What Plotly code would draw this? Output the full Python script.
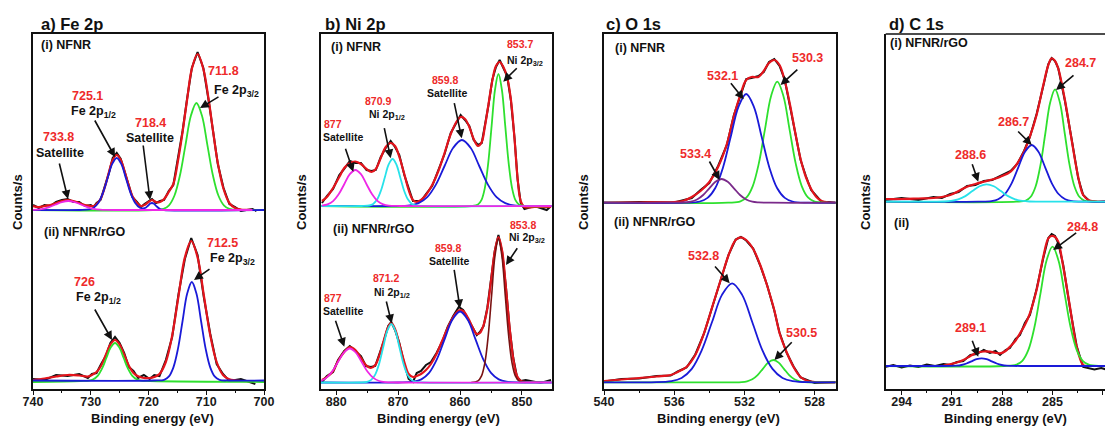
import plotly.graph_objects as go

FONT = "Liberation Sans, Arial, sans-serif"
W, H = 1105, 426

# ============================ DATA ============================
# y values are relative intensities (arbitrary units, spectra stacked with an offset)

# ---------- a) Fe 2p, (i) NFNR ----------
fe1_x = [740, 739, 738, 737, 736, 735, 734, 733, 732, 731, 730, 729.5, 729, 728.3, 727.5, 726.8, 726.2, 725.5,
         724.8, 724.2, 723.5, 722.8, 722, 721.3, 720.7, 720, 719.4, 718.7, 718, 717.3, 716.5, 715.7, 714.9, 714.1,
         713.3, 712.5, 711.5, 710.5, 709.6, 708.8, 708, 707, 706, 705, 704, 702, 701.3]
fe1_fit = [183, 182, 183, 184, 186, 188, 189, 188, 186, 184, 183, 183, 185, 190, 203, 218, 229, 234,
           229, 219, 205, 193, 186, 183, 184, 187, 189, 187, 187, 190, 197, 205, 228, 257,
           290, 320, 335, 320, 290, 257, 226, 200, 186, 181, 179.5, 179, 179]
fe1_raw = [184, 181, 184, 183, 187, 189, 190, 187, 187, 183, 184, 182, 186, 189, 204, 217, 231, 236,
           230, 218, 206, 192, 187, 182, 185, 188, 190, 186, 188, 189, 198, 204, 229, 258,
           291, 321, 337, 321, 289, 258, 225, 201, 185, 182, 178, 180, 178]
fe1_sat_x = [740.5, 739.4, 738.3, 737.2, 736.1, 735.0, 733.9, 732.8, 731.7, 730.6, 729.5, 728.4, 727.3, 725.1, 702]
fe1_sat = [179.1, 179.4, 180.2, 181.9, 184.5, 186.9, 188, 186.9, 184.5, 181.9, 180.2, 179.4, 179.1, 179, 179]
fe1_blue_x = [740, 731.9, 730.3, 729.5, 728.7, 727.9, 727.1, 726.3, 725.5, 724.7, 723.9, 723.1, 722.3, 721.5,
              720.7, 720.1, 719.75, 719.4, 719.05, 718.7, 718.0, 717.3, 700]
fe1_blue = [179, 179, 179.6, 181.3, 186, 195.9, 210.5, 224.9, 231, 224.9, 210.5, 195.9, 186, 181.3,
            180.8, 183.2, 185.2, 186, 185.2, 183.2, 179.9, 179, 179]
fe1_green_x = [740, 719.3, 717.4, 716.45, 715.5, 714.55, 713.6, 712.65, 711.7, 710.75, 709.8, 708.85, 707.9,
               706.95, 706.0, 704.1, 700]
fe1_green = [179, 179, 180.2, 183.7, 193.5, 213.7, 243.9, 273.4, 286, 273.4, 243.9, 213.7, 193.5,
             183.7, 180.2, 179, 179]

# ---------- a) Fe 2p, (ii) NFNR/rGO ----------
fe2_x = [740, 738, 736, 734, 732, 730.5, 729.8, 729, 728.2, 727.4, 726.6, 725.8, 725, 724.2, 723.4, 722.6, 721.8,
         720.8, 719.8, 719, 718.1, 717, 715.9, 714.8, 713.7, 712.6, 711.5, 710.4, 709.3, 708.2, 707.1, 706, 704, 701.5]
fe2_fit = [9, 10.5, 12.5, 14, 13.5, 12.5, 14, 17, 23.3, 34, 44.5, 49, 44.5, 34, 23.3, 16.1, 12.7,
           11, 11, 12, 15, 27, 53.5, 93, 131.6, 148, 131.6, 93, 53.5, 27, 14, 9.6, 8, 8]
fe2_raw = [10, 9, 14, 13, 15, 11, 15, 16, 25, 33, 46, 52, 46, 36, 22, 18, 11,
           14, 10, 14, 13, 29, 52, 95, 130, 151, 134, 91, 55, 25, 15, 8, 10, 5]
fe2_green_x = [740, 731.8, 730.3, 729.55, 728.8, 728.05, 727.3, 726.55, 725.8, 725.05, 724.3, 723.55, 722.8,
               722.05, 721.3, 719.8, 700]
fe2_green = [7, 8, 8.4, 9.7, 13.1, 20.3, 31, 41.5, 46, 41.5, 31, 20.3, 13.1, 9.7, 8.4, 8, 7]
fe2_blue_x = [740, 718.9, 717.3, 716.5, 715.7, 714.9, 714.1, 713.3, 712.5, 711.7, 710.9, 710.1, 709.3, 708.5,
              707.7, 706.1, 700]
fe2_blue = [8.5, 8.5, 9.1, 12.3, 21.4, 40.1, 68, 95.4, 107, 95.4, 68, 40.1, 21.4, 12.3, 9.1, 8.5, 8.5]

# ---------- b) Ni 2p, (i) NFNR ----------
ni1_x = [882.3, 881.5, 880.5, 879.5, 878.7, 877.8, 876.9, 876.0, 875.1, 874.3, 873.6, 872.8, 872.0, 871.2, 870.5,
         869.8, 869.0, 868.3, 867.6, 867.0, 866.3, 865.5, 864.5, 863.5, 862.5, 861.5, 860.5, 859.9, 859.2, 858.5,
         857.8, 857.1, 856.5, 856.0, 855.4, 854.8, 854.2, 853.6, 853.0, 852.4, 851.8, 851.2, 850.7, 850.2, 849.6,
         848, 846, 845.3]
ni1_fit = [188, 192, 201, 212, 221, 226, 227.5, 225, 220, 217, 220, 231, 242, 246, 243,
           232, 215, 199, 189, 187, 189, 194, 204, 218, 236, 255, 268, 272, 270, 262,
           250, 243, 247, 262, 285, 308, 323, 327, 322, 312, 290, 250, 210, 188, 182,
           182, 182, 182]
ni1_raw = [186, 193, 200, 214, 220, 228, 226, 226, 219, 218, 219, 232, 241, 248, 242,
           234, 214, 200, 188, 188, 188, 195, 203, 219, 235, 256, 267, 274, 269, 263,
           249, 244, 246, 263, 284, 309, 322, 329, 321, 313, 289, 251, 209, 186, 180,
           183, 179, 183]
ni1_mag_x = [882.3, 881.4, 880.5, 879.6, 878.7, 877.8, 876.9, 876.0, 875.1, 874.2, 873.3, 872.4, 871.5, 869.7, 845]
ni1_mag = [183.4, 184.6, 187.9, 194.7, 204.8, 214.8, 219, 214.8, 204.8, 194.7, 187.9, 184.6, 183.4, 183, 183]
ni1_cyan_x = [882.5, 875.9, 874.65, 874.03, 873.4, 872.78, 872.15, 871.53, 870.9, 870.28, 869.65, 869.03, 868.4,
              867.78, 867.15, 865.9, 845]
ni1_cyan = [183, 183, 183.5, 185.1, 189.4, 198.3, 211.5, 224.5, 230, 224.5, 211.5, 198.3, 189.4, 185.1, 183.5, 183, 183]
ni1_blue_x = [882.5, 870.9, 868.1, 866.7, 865.3, 863.9, 862.5, 861.1, 859.7, 858.3, 856.9, 855.5, 854.1, 852.7,
              851.3, 848.5, 845]
ni1_blue = [183, 183, 183.7, 185.9, 191.9, 204.4, 223, 241.2, 249, 241.2, 223, 204.4, 191.9, 185.9, 183.7, 183, 183]
ni1_green_x = [882.5, 858.2, 857.1, 856.55, 856.0, 855.45, 854.9, 854.35, 853.8, 853.25, 852.7, 852.15, 851.6,
               851.05, 850.5, 849.4, 845]
ni1_green = [183, 183, 184.5, 188.8, 200.9, 225.9, 263.1, 299.5, 315, 299.5, 263.1, 225.9, 200.9, 188.8, 184.5, 183, 183]

# ---------- b) Ni 2p, (ii) NFNR/rGO ----------
ni2_x = [882.3, 881.5, 880.5, 879.7, 878.7, 877.8, 876.9, 876.0, 875.2, 874.4, 873.7, 873.0, 872.3, 871.6, 871.1,
         870.5, 869.8, 869.0, 868.3, 867.6, 867.0, 866.3, 865.5, 864.7, 863.8, 862.9, 862.0, 861.1, 860.2, 859.5,
         858.7, 858.0, 857.3, 856.8, 856.2, 855.6, 855.0, 854.4, 853.8, 853.2, 852.6, 852.0, 851.4, 850.8, 850.2,
         849.4, 847, 845.3]
ni2_fit = [9, 12, 18, 28, 37, 42, 39, 31, 24, 21, 24, 34, 49, 62, 66,
           60, 45, 27, 15, 12, 13, 15, 19, 25, 35, 48, 61, 72, 78.5, 78,
           71, 62, 55, 56, 64, 80, 108, 137, 152, 138, 102, 62, 30, 13, 8,
           7, 7, 7]
ni2_raw = [7, 13, 17, 29, 38, 43, 38, 33, 23, 22, 23, 35, 48, 63, 67,
           59, 46, 25, 10, 7, 16, 18, 24, 27, 36, 47, 62, 73, 82, 79,
           70, 63, 54, 57, 63, 81, 107, 138, 154, 137, 103, 61, 31, 12, 8,
           9, 6, 9]
ni2_mag_x = [883.5, 882.55, 881.6, 880.65, 879.7, 878.75, 877.8, 876.85, 875.9, 874.95, 874.0, 873.05, 872.1, 870.2, 845]
ni2_mag = [6.9, 8.0, 11.1, 17.5, 27.1, 36.5, 40.5, 36.5, 27.1, 17.5, 11.1, 8.0, 6.9, 6.5, 6.5]
ni2_cyan_x = [882.5, 876.3, 875.0, 874.35, 873.7, 873.05, 872.4, 871.75, 871.1, 870.45, 869.8, 869.15, 868.5,
              867.85, 867.2, 865.9, 845]
ni2_cyan = [6.5, 6.5, 7.1, 9.1, 14.4, 25.5, 42, 58.1, 65, 58.1, 42, 25.5, 14.4, 9.1, 7.1, 6.5, 6.5]
ni2_blue_x = [882.5, 870, 867.5, 866.25, 865.0, 863.75, 862.5, 861.25, 860.0, 858.75, 857.5, 856.25, 855.0, 853.75,
              852.5, 850, 845]
ni2_blue = [6.5, 6.5, 7.3, 9.6, 16.1, 29.6, 49.6, 69.2, 77.5, 69.2, 49.6, 29.6, 16.1, 9.6, 7.3, 6.5, 6.5]
ni2_brown_x = [858.2, 857.1, 856.55, 856.0, 855.45, 854.9, 854.35, 853.8, 853.25, 852.7, 852.15, 851.6, 851.05,
               850.5, 849.4]
ni2_brown = [6.5, 8.1, 12.8, 26, 53.3, 93.8, 133.6, 150.5, 133.6, 93.8, 53.3, 26, 12.8, 8.1, 6.5]

# ---------- c) O 1s, (i) NFNR ----------
o1_x = [540, 538, 536, 535.5, 535.0, 534.5, 534.0, 533.5, 533.0, 532.6, 532.2, 531.9, 531.6, 531.2, 530.9, 530.6,
        530.3, 530.0, 529.7, 529.4, 529.1, 528.8, 528.5, 528.2, 527.9, 527.6, 527.2, 526.8]
o1_fit = [186.5, 186.5, 187, 188, 192, 198, 207, 222, 245, 273, 296, 309, 312, 312, 318, 326,
          329, 324, 308, 284, 256, 230, 212, 200, 192, 188, 186.5, 186.3]
o1_raw = [186, 187, 186.5, 188.5, 191, 199, 206, 223, 244, 274, 295, 310, 311, 313, 317, 327,
          330, 323, 309, 283, 257, 229, 213, 199, 193, 187, 187, 186]
o1_purple_x = [540, 536.1, 535.4, 535.05, 534.7, 534.35, 534.0, 533.65, 533.3, 532.95, 532.6, 532.25, 531.9,
               531.55, 531.2, 530.5, 526.8]
o1_purple = [186.3, 186.3, 186.6, 187.3, 189.5, 194, 200.7, 207.2, 210, 207.2, 200.7, 194, 189.5, 187.3, 186.6,
             186.3, 186.3]
o1_blue_x = [540, 535.42, 534.54, 534.1, 533.66, 533.22, 532.78, 532.34, 531.9, 531.46, 531.02, 530.58, 530.14,
             529.7, 529.26, 528.38, 526.8]
o1_blue = [186.3, 186.3, 187.5, 191.1, 201, 221.6, 252.2, 282.2, 295, 282.2, 252.2, 221.6, 201, 191.1, 187.5,
           186.3, 186.3]
o1_green_x = [540, 532.93, 532.23, 531.88, 531.53, 531.18, 530.83, 530.48, 530.13, 529.78, 529.43, 529.08, 528.73,
              528.38, 528.03, 527.33, 526.8]
o1_green = [186.3, 186.3, 187.6, 191.6, 202.7, 225.6, 259.7, 293.1, 307.3, 293.1, 259.7, 225.6, 202.7, 191.6,
            187.6, 186.3, 186.3]

# ---------- c) O 1s, (ii) NFNR/rGO ----------
o2_x = [540, 539, 538, 537, 536.2, 535.8, 535.3, 534.8, 534.3, 533.8, 533.3, 532.9, 532.5, 532.2, 531.9, 531.5,
        531.1, 530.7, 530.3, 530.0, 529.6, 529.2, 528.8, 528.4, 528.0, 526.8]
o2_fit = [8, 9.5, 11, 12.5, 14, 17, 22, 34, 56, 84, 112, 134, 149, 151.7, 149, 140,
          124, 103, 79, 56, 37, 22, 12, 8, 7, 6.7]
o2_raw = [7.5, 10, 10.5, 13, 13.5, 17.5, 21.5, 34.5, 55.5, 84.5, 111.5, 134.5, 149.5, 152, 148.5, 140.5,
          123.5, 103.5, 78.5, 56.5, 36.5, 22.5, 11.5, 8.5, 6, 7]
o2_blue_x = [540, 537.3, 536.15, 535.58, 535.0, 534.43, 533.85, 533.28, 532.7, 532.13, 531.55, 530.98, 530.4,
             529.83, 529.25, 528.1, 526.8]
o2_blue = [6.7, 6.7, 7.8, 11, 20.1, 38.8, 66.7, 94.1, 105.7, 94.1, 66.7, 38.8, 20.1, 11, 7.8, 6.7, 6.7]
o2_green_x = [540, 532.75, 532.15, 531.85, 531.55, 531.25, 530.95, 530.65, 530.35, 530.05, 529.75, 529.45, 529.15,
              528.85, 528.55, 527.95, 526.8]
o2_green = [6.7, 6.7, 6.9, 7.7, 9.7, 13.9, 20.2, 26.4, 29, 26.4, 20.2, 13.9, 9.7, 7.7, 6.9, 6.7, 6.7]

# ---------- d) C 1s, (i) NFNR/rGO ----------
c1_x = [295.0, 294, 293, 292.1, 291.6, 291.1, 290.6, 290.1, 289.6, 289.1, 288.6, 288.1, 287.5, 287.1, 286.7,
        286.35, 285.95, 285.55, 285.25, 285.05, 284.85, 284.66, 284.26, 283.86, 283.47, 283.17, 282.8, 282.3, 281.5]
c1_fit = [190, 190, 190.5, 191, 192, 194, 198, 202.3, 205, 207.3, 209.5, 212.3, 217.3, 225.7, 237.3,
          252.3, 274, 304, 324, 330.7, 328, 320.7, 289, 249, 212.3, 194, 188.5, 187.5, 187.5]
c1_raw = [189, 191, 189, 192, 191, 195, 197, 203, 204, 208, 209, 213, 218, 225, 238,
          252, 275, 303, 325, 331, 328, 321, 288, 250, 211, 194, 188, 187, 188]
c1_cyan_x = [295, 292.33, 291.48, 291.05, 290.63, 290.2, 289.78, 289.35, 288.93, 288.5, 288.08, 287.65, 287.23,
             286.8, 286.38, 285.53, 281.5]
c1_cyan = [187.3, 187.3, 187.5, 188.1, 189.7, 192.9, 197.9, 202.7, 204.7, 202.7, 197.9, 192.9, 189.7, 188.1,
           187.5, 187.3, 187.3]
c1_blue_x = [295, 289.44, 288.64, 288.24, 287.84, 287.44, 287.04, 286.64, 286.24, 285.84, 285.44, 285.04, 284.64,
             284.24, 283.84, 283.04, 281.5]
c1_blue = [187.3, 187.3, 187.9, 189.8, 195, 205.7, 221.7, 237.3, 244, 237.3, 221.7, 205.7, 195, 189.8, 187.9,
           187.3, 187.3]
c1_green_x = [295, 287.17, 286.59, 286.3, 286.01, 285.72, 285.43, 285.14, 284.85, 284.56, 284.27, 283.98, 283.69,
              283.4, 283.11, 282.53, 281.5]
c1_green = [187.3, 187.3, 188.5, 192.2, 202.5, 223.8, 255.5, 286.5, 299.7, 286.5, 255.5, 223.8, 202.5, 192.2,
            188.5, 187.3, 187.3]

# ---------- d) C 1s, (ii) ----------
c2_x = [291.5, 291.12, 290.7, 290.32, 289.9, 289.52, 289.1, 288.73, 288.4, 288.13, 287.8, 287.54, 287.2, 286.94,
        286.65, 286.35, 285.95, 285.55, 285.25, 285.05, 284.85, 284.66, 284.36, 283.96, 283.56, 283.17, 282.9]
c2_fit = [23.5, 24.7, 26.5, 29, 33, 36.3, 37.5, 37.3, 36.2, 35.7, 38, 42.3, 48.5, 55.7,
          64, 75.7, 99, 132.3, 150.7, 153, 152, 147.3, 122.3, 82.3, 42.3, 24, 23]
c2_raw_x = [295, 294.5, 294, 293.5, 293, 292.5, 292, 291.5, 291.12, 290.7, 290.32, 289.9, 289.52, 289.1, 288.73,
            288.4, 288.13, 287.8, 287.54, 287.2, 286.94, 286.65, 286.35, 285.95, 285.55, 285.25, 285.05, 284.85,
            284.66, 284.36, 283.96, 283.56, 283.17, 282.9, 282.5, 282.1, 281.7]
c2_raw = [22, 24, 21.5, 23.5, 22, 24.5, 23, 25, 24, 27, 28, 34, 35, 39, 36,
          38, 34, 39, 41, 50, 54, 66, 74, 100, 131, 151, 155, 153,
          146, 124, 81, 43, 22, 21, 19.5, 21, 19]
c2_blue_x = [295, 291.63, 291.03, 290.73, 290.43, 290.13, 289.83, 289.53, 289.23, 288.93, 288.63, 288.33, 288.03,
             287.73, 287.43, 286.83, 281.5]
c2_blue = [23, 23, 23.1, 23.3, 24, 25.5, 27.7, 29.8, 30.7, 29.8, 27.7, 25.5, 24, 23.3, 23.1, 23, 23]
c2_green_x = [295, 287.88, 287.16, 286.8, 286.44, 286.08, 285.72, 285.36, 285.0, 284.64, 284.28, 283.92, 283.56,
              283.2, 282.84, 282.12, 281.5]
c2_green = [23, 23, 24.3, 28.2, 39.1, 61.7, 95.4, 128.3, 142.3, 128.3, 95.4, 61.7, 39.1, 28.2, 24.3, 23, 23]

# axis ranges / ticks
x_ranges = [[740, 700], [882.5, 845.2], [540, 526.8], [294.95, 281.87]]
x_tick0 = [700, 850, 528, 282]
x_dtick = [10, 10, 4, 3]
x_minor = [5, 5, 2, 1.5]
panel_titles = ["a) Fe 2p", "b) Ni 2p", "c) O 1s", "d) C 1s"]

# ============================ STYLE ============================
RED = "#e3141c"
LBLRED = "#ee2a2a"
BLACK = "#111111"
BLUE = "#1a1ad8"
GREEN = "#2ee02e"
MAGENTA = "#ee28e6"
CYAN = "#28e2ea"
PURPLE = "#7a2a8a"
BROWN = "#7a1212"

fig = go.Figure()

def line(x, y, color, width, k, shape="spline"):
    xa = "x" if k == 1 else f"x{k}"
    ya = "y" if k == 1 else f"y{k}"
    fig.add_trace(go.Scatter(x=x, y=y, mode="lines", xaxis=xa, yaxis=ya, showlegend=False,
                             hoverinfo="skip", line=dict(color=color, width=width, shape=shape)))

# Panel a
line(fe1_x, fe1_raw, BLACK, 2.0, 1, "linear")
line(fe1_x, fe1_fit, RED, 2.2, 1)
line(fe1_green_x, fe1_green, GREEN, 1.8, 1)
line(fe1_blue_x, fe1_blue, BLUE, 1.8, 1)
line(fe1_sat_x, fe1_sat, MAGENTA, 1.8, 1)
line(fe2_x, fe2_raw, BLACK, 2.0, 1, "linear")
line(fe2_x, fe2_fit, RED, 2.2, 1)
line(fe2_green_x, fe2_green, GREEN, 1.8, 1)
line(fe2_blue_x, fe2_blue, BLUE, 1.8, 1)
# Panel b
line(ni1_x, ni1_raw, BLACK, 2.0, 2, "linear")
line(ni1_x, ni1_fit, RED, 2.2, 2)
line(ni1_green_x, ni1_green, GREEN, 1.8, 2)
line(ni1_blue_x, ni1_blue, BLUE, 1.8, 2)
line(ni1_cyan_x, ni1_cyan, CYAN, 1.8, 2)
line(ni1_mag_x, ni1_mag, MAGENTA, 1.8, 2)
line(ni2_x, ni2_raw, BLACK, 2.0, 2, "linear")
line(ni2_x, ni2_fit, RED, 2.2, 2)
line(ni2_blue_x, ni2_blue, BLUE, 1.8, 2)
line(ni2_brown_x, ni2_brown, BROWN, 1.6, 2)
line(ni2_cyan_x, ni2_cyan, CYAN, 1.8, 2)
line(ni2_mag_x, ni2_mag, MAGENTA, 1.8, 2)
# Panel c
line(o1_x, o1_raw, BLACK, 2.0, 3, "linear")
line(o1_x, o1_fit, RED, 2.2, 3)
line(o1_green_x, o1_green, GREEN, 1.8, 3)
line(o1_blue_x, o1_blue, BLUE, 1.8, 3)
line(o1_purple_x, o1_purple, PURPLE, 1.8, 3)
line(o2_x, o2_raw, BLACK, 2.0, 3, "linear")
line(o2_x, o2_fit, RED, 2.2, 3)
line(o2_green_x, o2_green, GREEN, 1.8, 3)
line(o2_blue_x, o2_blue, BLUE, 1.8, 3)
# Panel d
line(c1_x, c1_raw, BLACK, 2.0, 4, "linear")
line(c1_x, c1_fit, RED, 2.2, 4)
line(c1_green_x, c1_green, GREEN, 1.8, 4)
line(c1_blue_x, c1_blue, BLUE, 1.8, 4)
line(c1_cyan_x, c1_cyan, CYAN, 1.8, 4)
line(c2_raw_x, c2_raw, BLACK, 2.0, 4, "linear")
line(c2_x, c2_fit, RED, 2.2, 4)
line(c2_green_x, c2_green, GREEN, 1.8, 4)
line(c2_blue_x, c2_blue, BLUE, 1.8, 4)

# ============================ LAYOUT ============================
frame_left_px = [33, 320.7, 604, 885.7]
frame_right_px = [264, 551.7, 835.7, 1105]
Y0 = (H - 389) / H
Y1 = (H - 34) / H

layout = dict(width=W, height=H, margin=dict(l=0, r=0, t=0, b=0, autoexpand=False), autosize=False,
              plot_bgcolor="white", paper_bgcolor="white", font=dict(family=FONT, color=BLACK))
for i in range(4):
    k = i + 1
    last = (i == 3)
    xk = "xaxis" if k == 1 else f"xaxis{k}"
    yk = "yaxis" if k == 1 else f"yaxis{k}"
    layout[xk] = dict(domain=[frame_left_px[i] / W, frame_right_px[i] / W], range=x_ranges[i],
                      anchor="y" if k == 1 else f"y{k}", automargin=False,
                      tickmode="linear", tick0=x_tick0[i], dtick=x_dtick[i],
                      ticks="outside", ticklen=4, tickwidth=1.3, tickcolor=BLACK,
                      ticklabelstandoff=-4,
                      minor=dict(ticks="outside", ticklen=2.5, tickwidth=1.2, tickcolor=BLACK,
                                 tick0=x_tick0[i], dtick=x_minor[i], showgrid=False),
                      showgrid=False, zeroline=False, showline=True, mirror=not last,
                      linecolor=BLACK, linewidth=1.6,
                      tickfont=dict(family=FONT, size=12.5, color="#1a1a1a", weight="bold"))
    layout[yk] = dict(domain=[Y0, Y1], range=[0, 355], anchor="x" if k == 1 else f"x{k}",
                      automargin=False,
                      showticklabels=False, ticks="", showgrid=False, zeroline=False,
                      showline=True, mirror=not last, linecolor=BLACK, linewidth=1.6)

fig.update_layout(**layout)
fig.add_shape(type="line", xref="paper", yref="paper", x0=885.7 / W, x1=1.02, y0=Y1, y1=Y1,
              line=dict(color=BLACK, width=1.6))

ann = []

def paper_text(text, px, py, size, xanchor="center", angle=0):
    ann.append(dict(text=f"<b>{text}</b>", x=px / W, y=1 - py / H, xref="paper", yref="paper",
                    showarrow=False, xanchor=xanchor, yanchor="middle", textangle=angle,
                    font=dict(family=FONT, size=size, color=BLACK)))

for i, t in enumerate(panel_titles):
    paper_text(t, [39, 323, 604, 887][i], 24, 16.5, "left")
for px in [152.5, 438, 718, 1005]:
    paper_text("Binding energy (eV)", px, 418, 13)
for px in [18, 302, 584, 866]:
    paper_text("Counts/s", px, 202, 13, "center", -90)

def dtext(k, text, x, y, color, size, xanchor="center"):
    xa = "x" if k == 1 else f"x{k}"
    ya = "y" if k == 1 else f"y{k}"
    ann.append(dict(text=f"<b>{text}</b>", x=x, y=y, xref=xa, yref=ya, showarrow=False,
                    xanchor=xanchor, yanchor="middle", font=dict(family=FONT, size=size, color=color)))

def arrow(k, tx, ty, hx, hy):
    xa = "x" if k == 1 else f"x{k}"
    ya = "y" if k == 1 else f"y{k}"
    ann.append(dict(text="", x=hx, y=hy, ax=tx, ay=ty, xref=xa, yref=ya, axref=xa, ayref=ya,
                    showarrow=True, arrowhead=2, arrowsize=1.1, arrowwidth=1.6, arrowcolor=BLACK,
                    standoff=0, startstandoff=0))

# sub-panel labels
sub_labels = [
    (1, "(i) NFNR", 738.96, 344), (1, "(ii) NFNR/rGO", 738.44, 157),
    (2, "(i) NFNR", 881.11, 342.3), (2, "(ii) NFNR/rGO", 880.89, 159.7),
    (3, "(i) NFNR", 539.47, 340.7), (3, "(ii) NFNR/rGO", 539.56, 167.3),
    (4, "(i) NFNR/rGO", 294.8, 345.7), (4, "(ii)", 294.59, 166.3),
]
for k, t, x, y in sub_labels:
    dtext(k, t, x, y, BLACK, 12.5, "left")

peak_labels = [
    (1, "711.8", 706.93, 318, LBLRED, 12.5), (1, "Fe 2p<sub>3/2</sub>", 704.68, 298.3, BLACK, 12.5),
    (1, "725.1", 730.65, 293, LBLRED, 12.5), (1, "Fe 2p<sub>1/2</sub>", 729.44, 277, BLACK, 12.5),
    (1, "718.4", 719.57, 266, LBLRED, 12.5), (1, "Satellite", 719.74, 251, BLACK, 12.5),
    (1, "733.8", 735.5, 252, LBLRED, 12.5), (1, "Satellite", 735.32, 236, BLACK, 12.5),
    (1, "712.5", 707.27, 146.3, LBLRED, 12.5), (1, "Fe 2p<sub>3/2</sub>", 705.54, 130, BLACK, 12.5),
    (1, "726", 731.0, 107.3, LBLRED, 12.5), (1, "Fe 2p<sub>1/2</sub>", 728.74, 91.3, BLACK, 12.5),
    (2, "853.7", 850.32, 344.7, LBLRED, 10.5), (2, "Ni 2p<sub>3/2</sub>", 849.51, 328, BLACK, 10.5),
    (2, "859.8", 862.43, 309, LBLRED, 10.5), (2, "Satellite", 862.15, 295.7, BLACK, 10.5),
    (2, "870.9", 873.2, 288.3, LBLRED, 10.5), (2, "Ni 2p<sub>1/2</sub>", 871.84, 274, BLACK, 10.5),
    (2, "877", 880.47, 264.7, LBLRED, 10.5), (2, "Satellite", 878.85, 252.3, BLACK, 10.5),
    (2, "853.8", 849.79, 164, LBLRED, 10.5), (2, "Ni 2p<sub>3/2</sub>", 849.14, 150.7, BLACK, 10.5),
    (2, "859.8", 861.9, 141.3, LBLRED, 10.5), (2, "Satellite", 861.73, 128, BLACK, 10.5),
    (2, "871.2", 871.96, 110.7, LBLRED, 10.5), (2, "Ni 2p<sub>1/2</sub>", 871.04, 95.7, BLACK, 10.5),
    (2, "877", 880.47, 91.3, LBLRED, 10.5), (2, "Satellite", 878.95, 78, BLACK, 10.5),
    (3, "530.3", 528.42, 330.7, LBLRED, 12.5), (3, "532.1", 533.27, 313, LBLRED, 12.5),
    (3, "533.4", 534.8, 235, LBLRED, 12.5), (3, "532.8", 534.33, 133, LBLRED, 12.5),
    (3, "530.5", 528.74, 56.3, LBLRED, 12.5),
    (4, "284.7", 283.36, 325.7, LBLRED, 12.5), (4, "286.7", 287.34, 267.3, LBLRED, 12.5),
    (4, "288.6", 289.88, 233.7, LBLRED, 12.5), (4, "284.8", 283.2, 162.3, LBLRED, 12.5),
    (4, "289.1", 289.88, 60.7, LBLRED, 12.5),
]
for k, t, x, y, c, s in peak_labels:
    dtext(k, t, x, y, c, s)

arrows = [
    (1, 707.62, 293, 711.08, 281), (1, 729.44, 270, 725.8, 232), (1, 720.95, 245, 719.74, 189),
    (1, 735.5, 227, 733.94, 190), (1, 709.18, 121, 712.12, 109), (1, 729.44, 81, 726.32, 49),
    (2, 850.6, 322.3, 853.02, 307.3), (2, 860.98, 287.3, 859.73, 250.7), (2, 872.28, 262.3, 871.2, 230.7),
    (2, 878.58, 241.7, 877.24, 217.3), (2, 850.6, 142.3, 852.58, 124), (2, 860.98, 120.7, 860.01, 80.7),
    (2, 871.96, 89, 871.04, 65.7), (2, 880.19, 69.7, 878.69, 42.3),
    (3, 528.9, 320.7, 529.94, 304), (3, 532.84, 307.3, 532.04, 289.7), (3, 534.04, 229, 533.41, 209),
    (3, 533.75, 124, 532.84, 105.7), (3, 529.22, 48.3, 530.29, 29),
    (4, 283.66, 315, 284.79, 299), (4, 287.14, 259, 286.24, 244), (4, 289.82, 226.3, 289.43, 207.3),
    (4, 283.5, 157.3, 284.96, 139), (4, 289.82, 49.7, 289.43, 32.3),
]
for a in arrows:
    arrow(*a)

fig.update_layout(annotations=ann)
fig.write_html("out.html")
